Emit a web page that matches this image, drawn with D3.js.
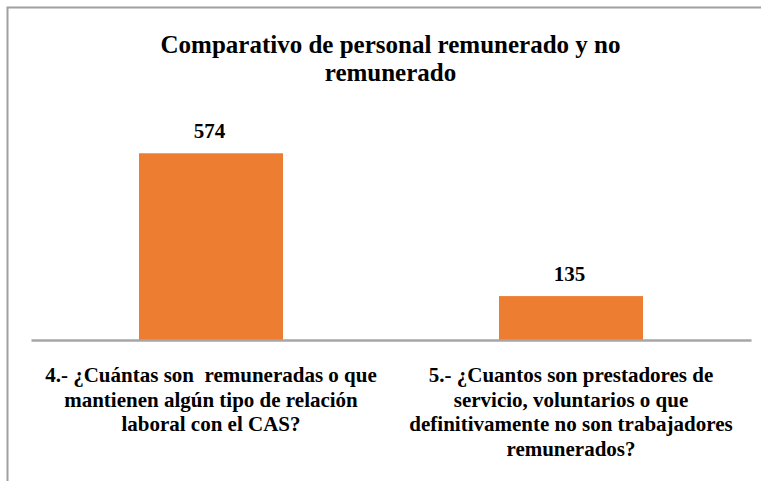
<!DOCTYPE html>
<html><head><meta charset="utf-8">
<script src="https://cdn.jsdelivr.net/npm/d3@7"></script>
<style>body{margin:0;background:#fff}svg{display:block}</style>
</head><body>
<svg id="c" width="761" height="481"></svg>
<script>
const titleLines = ["Comparativo de personal remunerado y no", "remunerado"];
const categories = ["q4", "q5"];
const categoryLabels = [
  ["4.- ¿Cuántas son  remuneradas o que", "mantienen algún tipo de relación", "laboral con el CAS?"],
  ["5.- ¿Cuantos son prestadores de", "servicio, voluntarios o que", "definitivamente no son trabajadores", "remunerados?"]
];
const values = [574, 135];

const svg = d3.select("#c");
const font = "'Liberation Serif','Times New Roman',serif";

// frame
svg.append("path").attr("d", "M7.5,481 V7.5 H761").attr("fill", "none")
  .attr("stroke", "#a0a0a0").attr("stroke-width", 2);

const x = d3.scaleBand().domain(categories).range([31, 751]).paddingInner(0.6).paddingOuter(0.3);
const y = d3.scaleLinear().domain([0, 700]).range([340, 340 - 0.3253 * 700]);

// title
const t = svg.append("text").attr("text-anchor", "middle").attr("font-family", font)
  .attr("font-weight", "bold").attr("font-size", 25).attr("fill", "#000");
titleLines.forEach((l, i) => t.append("tspan").attr("x", 390.5).attr("y", 53 + i * 27.5).text(l));

// bars
svg.selectAll("rect.bar").data(values).join("rect").attr("class", "bar")
  .attr("x", (d, i) => x(categories[i])).attr("width", x.bandwidth())
  .attr("y", d => y(d)).attr("height", d => y(0) - y(d)).attr("fill", "#ED7D31");

// value labels
svg.selectAll("text.val").data(values).join("text").attr("class", "val")
  .attr("x", (d, i) => x(categories[i]) + x.bandwidth() / 2 - 1.5).attr("y", d => y(d) - 15.5)
  .attr("text-anchor", "middle").attr("font-family", font).attr("font-weight", "bold")
  .attr("font-size", 21).attr("fill", "#000").text(d => d);

// axis
const ax = svg.append("g").attr("transform", "translate(0,340)").call(d3.axisBottom(x).tickSize(0).tickFormat(""));
ax.select(".domain").attr("stroke", "#a6a6a6").attr("stroke-width", 2.5);

// category labels
categories.forEach((c, i) => {
  const g = svg.append("text").attr("text-anchor", "middle").attr("font-family", font)
    .attr("font-weight", "bold").attr("font-size", 21).attr("fill", "#000");
  categoryLabels[i].forEach((l, j) => g.append("tspan").attr("x", x(c) + x.bandwidth() / 2)
    .attr("y", 382 + j * 24.7).style("white-space", "pre").text(l));
});
</script>
</body></html>
